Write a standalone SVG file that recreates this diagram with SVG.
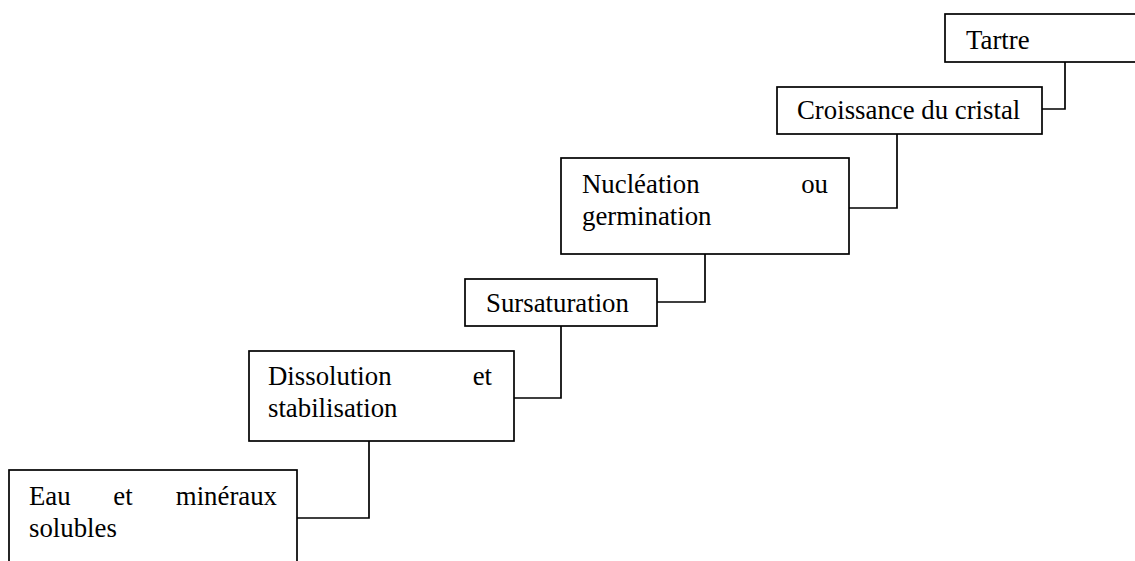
<svg xmlns="http://www.w3.org/2000/svg" width="1135" height="561" viewBox="0 0 1135 561">
<style>
.box{fill:#fff;stroke:#000;stroke-width:1.7}
.ln{fill:none;stroke:#000;stroke-width:1.7}
text{font-family:"Liberation Serif","Times New Roman",serif;font-size:26.8px;fill:#000}
</style>
<rect width="1135" height="561" fill="#fff"/>
<g id="connectors">
<polyline class="ln" points="297,518 369,518 369,441"/>
<polyline class="ln" points="514,398 561,398 561,326"/>
<polyline class="ln" points="657,302 705,302 705,254"/>
<polyline class="ln" points="849,208 897,208 897,134"/>
<polyline class="ln" points="1042,109 1065,109 1065,62"/>
</g>
<g id="n1">
<rect class="box" x="9" y="470" width="288" height="110"/>
<text x="29" y="505">Eau</text>
<text x="123" y="505" text-anchor="middle">et</text>
<text x="277" y="505" text-anchor="end">minéraux</text>
<text x="29" y="537">solubles</text>
</g>
<g id="n2">
<rect class="box" x="249" y="351" width="265" height="90"/>
<text x="268" y="385">Dissolution</text>
<text x="492" y="385" text-anchor="end">et</text>
<text x="268" y="417">stabilisation</text>
</g>
<g id="n3">
<rect class="box" x="465" y="279" width="192" height="47"/>
<text x="486" y="312">Sursaturation</text>
</g>
<g id="n4">
<rect class="box" x="561" y="158" width="288" height="96"/>
<text x="582" y="193">Nucléation</text>
<text x="828" y="193" text-anchor="end">ou</text>
<text x="582" y="225">germination</text>
</g>
<g id="n5">
<rect class="box" x="777" y="87" width="265" height="47"/>
<text x="797" y="119">Croissance du cristal</text>
</g>
<g id="n6">
<rect class="box" x="945" y="14" width="200" height="48"/>
<text x="966" y="49">Tartre</text>
</g>
</svg>
